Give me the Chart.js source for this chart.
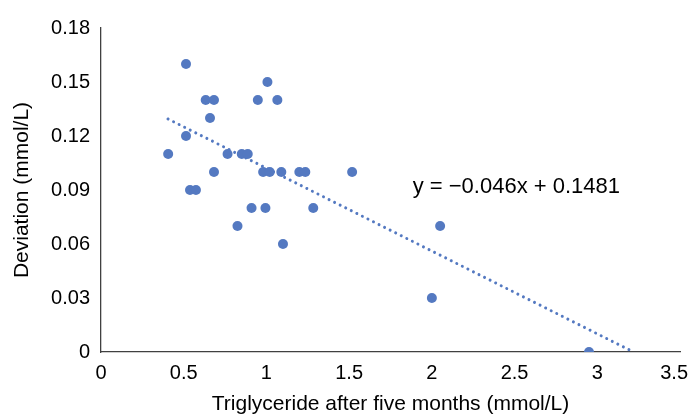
<!DOCTYPE html>
<html>
<head>
<meta charset="utf-8">
<script src="https://cdn.jsdelivr.net/npm/chart.js@4.4.1/dist/chart.umd.min.js"></script>
<style>
  html, body { margin: 0; padding: 0; background: #ffffff; }
  #wrap { width: 689px; height: 417px; }
</style>
</head>
<body>
<div id="wrap"><canvas id="c" width="689" height="417"></canvas></div>
<script>
// ---- data ----
const triglyceride = [0.514, 1.006, 0.633, 0.683, 0.948, 1.066, 0.659, 0.514, 0.406, 0.765,
                      0.851, 0.887, 0.683, 0.980, 1.020, 1.090, 1.199, 1.235, 1.518, 0.538,
                      0.574, 0.910, 0.994, 1.283, 0.825, 1.100, 2.050, 2.000, 2.950];
const deviation    = [0.16, 0.15, 0.14, 0.14, 0.14, 0.14, 0.13, 0.12, 0.11, 0.11,
                      0.11, 0.11, 0.10, 0.10, 0.10, 0.10, 0.10, 0.10, 0.10, 0.09,
                      0.09, 0.08, 0.08, 0.08, 0.07, 0.06, 0.07, 0.03, 0.00];
const trendSlope = -0.046;
const trendIntercept = 0.1481;
const trendXRange = [0.405, 3.22];
const equationText = ['y = \u22120.046x + 0.1481'];
const equationAnchor = [1.884, 0.0917];
const xTickValues = [0, 0.5, 1, 1.5, 2, 2.5, 3, 3.5];
const xTickLabels = ['0', '0.5', '1', '1.5', '2', '2.5', '3', '3.5'];
const yTickValues = [0, 0.03, 0.06, 0.09, 0.12, 0.15, 0.18];
const yTickLabels = ['0', '0.03', '0.06', '0.09', '0.12', '0.15', '0.18'];
const xTitle = 'Triglyceride after five months (mmol/L)';
const yTitle = 'Deviation (mmol/L)';

// ---- styling ----
const FONT = '"Liberation Sans", Arial, Helvetica, sans-serif';
const BLUE = '#5479C1';
const AXIS = '#404040';

const points = triglyceride.map((x, i) => ({ x: x, y: deviation[i] }));
const trendPoints = trendXRange.map(x => ({ x: x, y: trendSlope * x + trendIntercept }));

const overlay = {
  id: 'overlay',
  afterDraw(chart) {
    const ctx = chart.ctx;
    const xs = chart.scales.x, ys = chart.scales.y;
    // equation label
    ctx.save();
    ctx.font = '22px ' + FONT;
    ctx.fillStyle = '#000000';
    ctx.textAlign = 'left';
    ctx.textBaseline = 'middle';
    ctx.fillText(equationText[0], xs.getPixelForValue(equationAnchor[0]), ys.getPixelForValue(equationAnchor[1]));
    ctx.restore();
    // last x tick label kept inside the canvas
    const items = xs.getLabelItems();
    const last = items[items.length - 1];
    if (last) {
      ctx.save();
      ctx.font = last.font.string;
      ctx.fillStyle = '#000000';
      ctx.textAlign = 'right';
      ctx.textBaseline = last.options.textBaseline;
      const w = ctx.measureText(last.label).width;
      const cx = Math.min(last.options.translation[0] + w / 2, chart.width - 1);
      ctx.fillText(last.label, cx, last.options.translation[1] + last.textOffset);
      ctx.restore();
    }
  }
};

new Chart(document.getElementById('c'), {
  type: 'scatter',
  data: {
    datasets: [
      {
        label: 'Deviation',
        data: points,
        backgroundColor: BLUE,
        borderColor: BLUE,
        borderWidth: 0,
        pointRadius: 5,
        pointHoverRadius: 5,
        order: 1
      },
      {
        type: 'line',
        label: 'Trend',
        data: trendPoints,
        borderColor: BLUE,
        borderWidth: 3,
        borderDash: [0.01, 6.2],
        borderCapStyle: 'round',
        pointRadius: 0,
        fill: false,
        showLine: true,
        order: 2
      }
    ]
  },
  options: {
    responsive: false,
    animation: false,
    devicePixelRatio: 1,
    layout: { padding: { top: 28, right: 9, left: 0, bottom: 0 } },
    plugins: { legend: { display: false }, tooltip: { enabled: false } },
    scales: {
      x: {
        type: 'linear',
        min: 0, max: 3.5,
        afterBuildTicks: s => { s.ticks = xTickValues.map(v => ({ value: v })); },
        afterFit: s => { s.height = 65; s.paddingRight = 0; s.paddingLeft = 0; },
        grid: { display: false, drawTicks: false },
        border: { display: true, color: AXIS, width: 1.3 },
        ticks: {
          padding: 9,
          maxRotation: 0,
          autoSkip: false,
          font: { family: FONT, size: 20 },
          color: ctx => (ctx.index === xTickValues.length - 1 ? 'rgba(0,0,0,0)' : '#000000'),
          callback: (v, i) => xTickLabels[i]
        },
        title: {
          display: true,
          text: xTitle,
          color: '#000000',
          font: { family: FONT, size: 21 },
          padding: { top: 0, bottom: 0 }
        }
      },
      y: {
        type: 'linear',
        min: 0, max: 0.18,
        afterBuildTicks: s => { s.ticks = yTickValues.map(v => ({ value: v })); },
        afterFit: s => { s.width = 101; },
        grid: { display: false, drawTicks: false },
        border: { display: true, color: AXIS, width: 1.3 },
        ticks: {
          padding: 11,
          autoSkip: false,
          font: { family: FONT, size: 20 },
          color: '#000000',
          callback: (v, i) => yTickLabels[i]
        },
        title: {
          display: true,
          text: yTitle,
          color: '#000000',
          font: { family: FONT, size: 21 },
          padding: { top: 9.5, bottom: 0 }
        }
      }
    }
  },
  plugins: [overlay]
});
</script>
</body>
</html>
